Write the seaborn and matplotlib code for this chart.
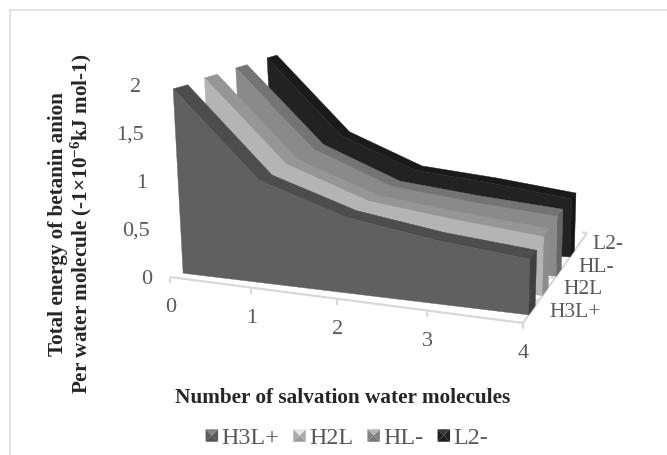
import matplotlib
matplotlib.use("Agg")
import matplotlib.pyplot as plt
from matplotlib.legend_handler import HandlerBase
from matplotlib.patches import Patch, Polygon
import seaborn as sns

# Chart values
water_molecules = [0, 1, 2, 3, 4]
species = ["H3L+", "H2L", "HL-", "L2-"]
energy_h3l = [1.92, 1.04, 0.75, 0.61, 0.52]
energy_h2l = [1.94, 1.09, 0.77, 0.65, 0.55]
energy_hl = [1.95, 1.13, 0.78, 0.66, 0.56]
energy_l2 = [1.96, 1.15, 0.80, 0.68, 0.54]
energy_series = [energy_h3l, energy_h2l, energy_hl, energy_l2]
value_ticks = [0, 0.5, 1, 1.5, 2]
value_tick_labels = ["0", "0,5", "1", "1,5", "2"]

face_colors = ["#606060", "#b4b4b4", "#8a8a8a", "#222222"]
ribbon_colors = ["#4d4d4d", "#969696", "#747474", "#1a1a1a"]
side_colors = ["#404040", "#8c8c8c", "#666666", "#151515"]

sns.set_theme(style="white", rc={
    "font.family": ["Liberation Serif"],
    "mathtext.fontset": "custom",
    "mathtext.rm": "Liberation Serif",
    "mathtext.bf": "Liberation Serif:bold",
})
face_palette = sns.color_palette(face_colors)
ribbon_palette = sns.color_palette(ribbon_colors)
side_palette = sns.color_palette(side_colors)

W, H = 667, 455
fig = plt.figure(figsize=(W / 100, H / 100), dpi=100)
ax = fig.add_axes([0, 0, 1, 1])
ax.set_xlim(0, W)
ax.set_ylim(H, 0)
ax.axis("off")


def project(x, depth, value):
    """Perspective view: x in molecules, depth in 0..1 front to back, value in energy units."""
    t = x / 4
    s = t / (t + 1.114 * (1 - t))
    left_x = 170 + 146 * depth
    left_y = 277 - 42 * depth
    right_x = 523 + 64 * depth
    right_y = 323 - 90 * depth
    floor_x = left_x + (right_x - left_x) * s
    floor_y = left_y + (right_y - left_y) * s
    lean = -5.2 * (1 - s) + 3 * s
    return floor_x + lean * value, floor_y - (96 + 11 * s) * value


def outline(points):
    return [project(*p) for p in points]


BAND_START = 0.09
BAND_STEP = 0.215

# Back series first so nearer ribbons overlap them; far ribbons look thinner
for i in reversed(range(len(species))):
    front = BAND_START + BAND_STEP * i
    back = front + 0.10 - 0.011 * i
    vals = energy_series[i]
    top_front = [(x, front, v) for x, v in zip(water_molecules, vals)]
    top_back = [(x, back, v) for x, v in zip(water_molecules, vals)]
    ax.add_patch(Polygon(outline(top_front + top_back[::-1]), closed=True,
                         fc=ribbon_palette[i], ec=ribbon_palette[i], lw=0.3, zorder=3))
    ax.add_patch(Polygon(outline([(0, front, 0)] + top_front + [(4, front, 0)]), closed=True,
                         fc=face_palette[i], ec=face_palette[i], lw=0.3, zorder=3))
    ax.add_patch(Polygon(outline([(4, front, 0), (4, front, vals[-1]),
                                  (4, back, vals[-1]), (4, back, 0)]), closed=True,
                         fc=side_palette[i], ec=side_palette[i], lw=0.3, zorder=3))

# Floor edges and tick marks
GRID = "#d9d9d9"
TICK_COLOR = "#595959"
line = dict(color=GRID, lw=1.6, solid_capstyle="butt", zorder=2)
ax.plot(*zip(project(0, 0, 0), project(4, 0, 0)), **line)
ax.plot(*zip(project(4, 0, 0), project(4, 1, 0)), **line)
for x in water_molecules:
    px, py = project(x, 0, 0)
    ax.plot([px, px], [py, py + 6], **line)
    ax.text(px + 0.5, py + 31, str(x), ha="center", va="center", fontsize=16, color=TICK_COLOR)
for i in range(len(species) + 1):
    px, py = project(4, i / len(species), 0)
    ax.plot([px - 5, px], [py - 0.6, py], **line)
for i, name in enumerate(species):
    px, py = project(4, (i + 0.5) / len(species), 0)
    ax.text(px + 18 - 1.5 * i, py + 0.5, name, ha="left", va="center", fontsize=15.5, color=TICK_COLOR)
for v, label in zip(value_ticks, value_tick_labels):
    px, py = project(0, 0, v)
    ax.text(px - 18, py + 2, label, ha="right", va="center", fontsize=16, color=TICK_COLOR)

# Axis titles
TITLE = "#262626"
ax.text(343, 398, "Number of salvation water molecules", ha="center", va="center",
        fontsize=15.3, fontweight="bold", color=TITLE)
ax.text(71, 224, "Total energy of betanin anion\nPer water molecule (-1×10$\\mathbf{^{-6}}$kJ mol-1)",
        rotation=90, ha="center", va="center", ma="center", fontsize=15.2,
        fontweight="bold", color=TITLE, linespacing=1.08)

# Chart frame, open on the right and at the bottom
ax.plot([9.5, 9.5, W], [H, 9.5, 9.5], color="#dddddd", lw=1.2, zorder=1)


class PillowHandler(HandlerBase):
    """Square legend key with a bevelled look."""

    def create_artists(self, legend, orig, xd, yd, width, height, fontsize, trans):
        c = orig.get_facecolor()
        side = 9.0
        x0, y0 = (width - side) / 2 - xd, (height - side) / 2 - yd
        cx, cy = x0 + side / 2, y0 + side / 2
        corners = [(x0, y0), (x0 + side, y0), (x0 + side, y0 + side), (x0, y0 + side)]
        shades = [0.85, 0.95, 1.2, 0.95]
        arts = []
        for k in range(4):
            col = tuple(min(1, ch * shades[k] + (0.06 if shades[k] > 1 else 0)) for ch in c[:3])
            arts.append(Polygon([corners[k], corners[(k + 1) % 4], (cx, cy)], closed=True,
                                fc=col, ec="none", transform=trans))
        return arts


handles = [Patch(facecolor=c, label=s) for c, s in zip(face_palette, species)]
ax.legend(handles=handles, ncol=4, frameon=False, loc="center",
          bbox_to_anchor=(347 / W, 1 - 438 / H), fontsize=17.3, labelcolor=TICK_COLOR,
          handler_map={Patch: PillowHandler()}, handlelength=0.52, handletextpad=0.15,
          columnspacing=0.58, borderpad=0)

fig.savefig("out.png", dpi=100)
